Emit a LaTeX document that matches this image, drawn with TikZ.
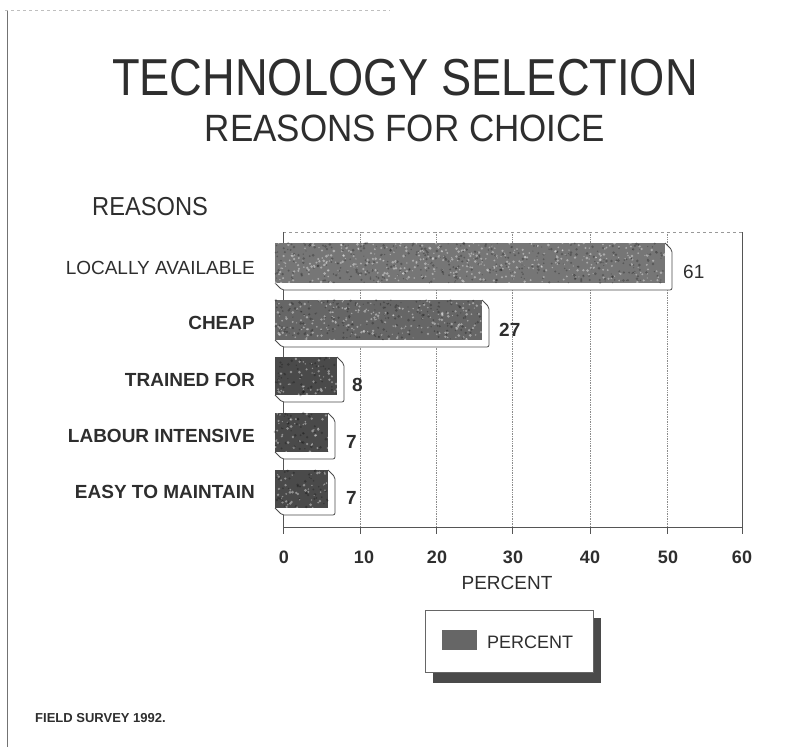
\documentclass[tikz,border=0pt]{standalone}
\usepackage{fontspec}
\setmainfont{Liberation Sans}
\definecolor{ink}{HTML}{2E2E2E}
\definecolor{barA}{HTML}{767676}
\definecolor{barB}{HTML}{666666}
\definecolor{barC}{HTML}{4A4A4A}
\definecolor{frame}{HTML}{555555}
\begin{document}
\begin{tikzpicture}[x=1pt,y=-1pt,
  txt/.style={inner sep=0pt,text=ink},
  cat/.style={txt,anchor=east,font=\fontsize{19}{19}\selectfont\bfseries},
  catlight/.style={txt,anchor=east,font=\fontsize{19}{19}\selectfont},
  val/.style={txt,anchor=west,font=\fontsize{19}{19}\selectfont\bfseries},
  ticklab/.style={txt,font=\fontsize{18}{18}\selectfont\bfseries},
  gridline/.style={densely dotted,draw=black!45,line width=0.7pt},
  axis/.style={draw=frame,line width=1pt},
  side/.style={draw=black!70,line width=0.8pt,rounded corners=2pt,fill=white},
  speck/.style={fill=white,opacity=0.4},
  darkspeck/.style={fill=black,opacity=0.25}]
\useasboundingbox (0,0) rectangle (790,747);

% page edges
\draw[black!55,line width=1pt] (7,10) -- (7,747);
\draw[black!25,dashed,line width=0.6pt] (5,10) -- (390,10);

% titles
\node[txt,font=\fontsize{52}{52}\selectfont] (title) at (405,78) {\scalebox{0.87}[1]{TECHNOLOGY SELECTION}};
\node[txt,font=\fontsize{38}{38}\selectfont] (subtitle) at (405,128) {\scalebox{0.92}[1]{REASONS FOR CHOICE}};
\node[txt,anchor=west,font=\fontsize{26}{26}\selectfont] (reasons) at (92,207) {\scalebox{0.91}[1]{REASONS}};

% plot frame and grid
\draw[black!40,dashed,line width=0.8pt] (283,232) -- (742,232);
\foreach \gx in {360,436,512,590,667} \draw[gridline] (\gx,232) -- (\gx,527);
\draw[axis] (283,232) -- (283,534);
\draw[axis] (742,232) -- (742,534);
\draw[axis] (283,527) -- (742,527);
\foreach \gx in {360,436,512,590,667} \draw[axis] (\gx,527) -- (\gx,534);

% bars: extruded side, front face, grain
\pgfmathsetseed{11}
\foreach \ya/\yb/\xb/\col/\n in {243/283/665/barA/420, 300/340/482/barB/220, 357/395/337/barC/50, 413/452/328/barC/45, 470/508/328/barC/45}{
  \draw[side] (\xb,\ya) -- (\xb+7,\ya+7) -- (\xb+7,\yb+7) -- (282,\yb+7) -- (275,\yb);
  \fill[\col] (275,\ya) rectangle (\xb,\yb);
  \foreach \i in {1,...,\n}{
    \fill[speck] ({275+rnd*(\xb-275)},{\ya+rnd*(\yb-\ya)}) circle (0.6+rnd*0.9);
    \fill[darkspeck] ({275+rnd*(\xb-275)},{\ya+rnd*(\yb-\ya)}) circle (0.6+rnd*0.9);
  }
}

% category labels
\node[catlight] (c1) at (255,268) {LOCALLY AVAILABLE};
\node[cat] (c2) at (255,323) {CHEAP};
\node[cat] (c3) at (255,380) {TRAINED FOR};
\node[cat] (c4) at (255,436) {LABOUR INTENSIVE};
\node[cat] (c5) at (255,492) {EASY TO MAINTAIN};

% value labels
\node[val,font=\fontsize{19}{19}\selectfont] (v1) at (683,272) {61};
\node[val] (v2) at (499,330) {27};
\node[val] (v3) at (352,385) {8};
\node[val] (v4) at (346,442) {7};
\node[val] (v5) at (346,498) {7};

% axis tick labels
\node[ticklab] (t0) at (284,557) {0};
\node[ticklab] (t1) at (364,557) {10};
\node[ticklab] (t2) at (437,557) {20};
\node[ticklab] (t3) at (513,557) {30};
\node[ticklab] (t4) at (590,557) {40};
\node[ticklab] (t5) at (668,557) {50};
\node[ticklab] (t6) at (742,557) {60};
\node[txt,font=\fontsize{19}{19}\selectfont] (xlabel) at (507,583) {PERCENT};

% legend
\fill[barC] (433,618) rectangle (601,683);
\draw[fill=white,draw=black!60,line width=0.8pt] (425,610) rectangle (593,672);
\fill[barB] (442,630) rectangle (477,650);
\node[txt,anchor=west,font=\fontsize{18}{18}\selectfont] (legend) at (487,642) {PERCENT};

% source note
\node[txt,anchor=west,font=\fontsize{13}{13}\selectfont\bfseries] (source) at (35,718) {FIELD SURVEY 1992.};
\end{tikzpicture}
\end{document}
